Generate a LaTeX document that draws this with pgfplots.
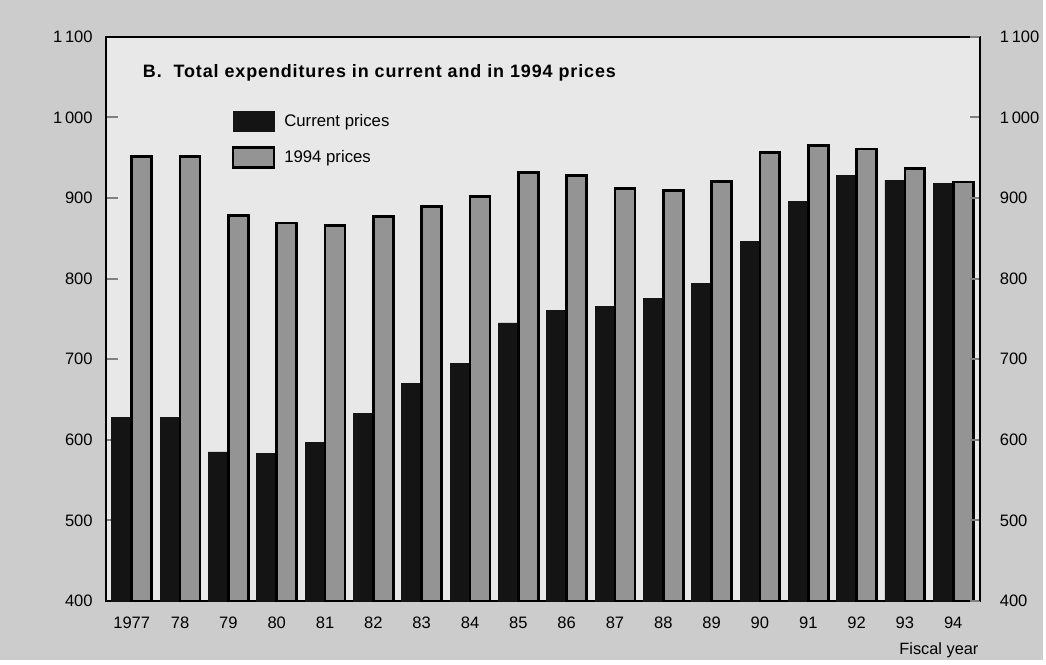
\documentclass[border=0pt]{standalone}
\usepackage{fontspec}
\setmainfont{Liberation Sans}
\usepackage{pgfplots}
\pgfplotsset{compat=1.18}
\definecolor{pagebg}{gray}{0.80}
\definecolor{plotbg}{gray}{0.91}
\definecolor{barblack}{gray}{0.08}
\definecolor{bargray}{gray}{0.58}
\begin{document}
\begin{tikzpicture}
\fill[pagebg] (-53pt,-29.5pt) rectangle (470pt,301.5pt);
\begin{axis}[
  at={(0pt,0pt)}, anchor=south west,
  width=438.5pt, height=283pt, scale only axis,
  xmin=-0.54, xmax=17.55, ymin=400, ymax=1100,
  axis background/.style={fill=plotbg},
  axis line style={line width=1.1pt},
  ybar, bar width=10pt,
  xtick={0,...,17},
  xticklabels={1977,78,79,80,81,82,83,84,85,86,87,88,89,90,91,92,93,94},
  xtick style={draw=none},
  ytick={400,500,...,1100},
  yticklabels={400,500,600,700,800,900,1\,000,1\,100},
  ytick pos=left, tick align=inside, major tick length=6pt,
  ytick style={line width=1pt},
  ticklabel style={font=\fontsize{8.3}{9}\selectfont},
  /pgf/number format/assume math mode=true,
  yticklabel style={xshift=-3pt},
  xticklabel style={yshift=-4.5pt},
  legend style={at={(0.1437,0.871)}, anchor=north west, draw=none, fill=none,
    font=\fontsize{8.4}{9}\selectfont, row sep=6.5pt, inner sep=0pt},
  legend cell align=left,
  legend image code/.code={\draw[#1,bar shift=0pt] (0pt,-5pt) rectangle (20.5pt,5pt); \path (23pt,0pt);},
]
\addplot[fill=barblack, draw=barblack, bar shift=-5pt] coordinates {
(0,628) (1,628) (2,585) (3,583) (4,597) (5,633) (6,670) (7,695) (8,745)
(9,760) (10,765) (11,776) (12,794) (13,846) (14,896) (15,928) (16,922) (17,918)};
\addlegendentry{Current prices}
\addplot[fill=bargray, draw=black, line width=1.4pt, bar shift=5pt] coordinates {
(0,952) (1,952) (2,878) (3,869) (4,866) (5,877) (6,890) (7,902) (8,932)
(9,928) (10,912) (11,909) (12,921) (13,957) (14,965) (15,961) (16,937) (17,920)};
\addlegendentry{1994 prices}
\end{axis}
\begin{axis}[
  at={(0pt,0pt)}, anchor=south west,
  width=438.5pt, height=283pt, scale only axis,
  xmin=-0.54, xmax=17.55, ymin=400, ymax=1100,
  hide x axis, axis y line*=right,
  axis line style={line width=1.1pt},
  ytick={400,500,...,1100},
  yticklabels={400,500,600,700,800,900,1\,000,1\,100},
  tick align=inside, major tick length=5pt,
  ytick style={line width=1pt},
  ticklabel style={font=\fontsize{8.3}{9}\selectfont},
  yticklabel style={xshift=6.5pt},
]
\end{axis}
\node[anchor=west, inner sep=0pt, font=\addfontfeature{LetterSpace=5}\bfseries\fontsize{9}{10}\selectfont] at (18.5pt,265pt)
  {B.\ \ Total expenditures in current and in 1994 prices};
\node[font=\fontsize{8.2}{9}\selectfont] at (418pt,-24.5pt) {Fiscal year};
\end{tikzpicture}
\end{document}
